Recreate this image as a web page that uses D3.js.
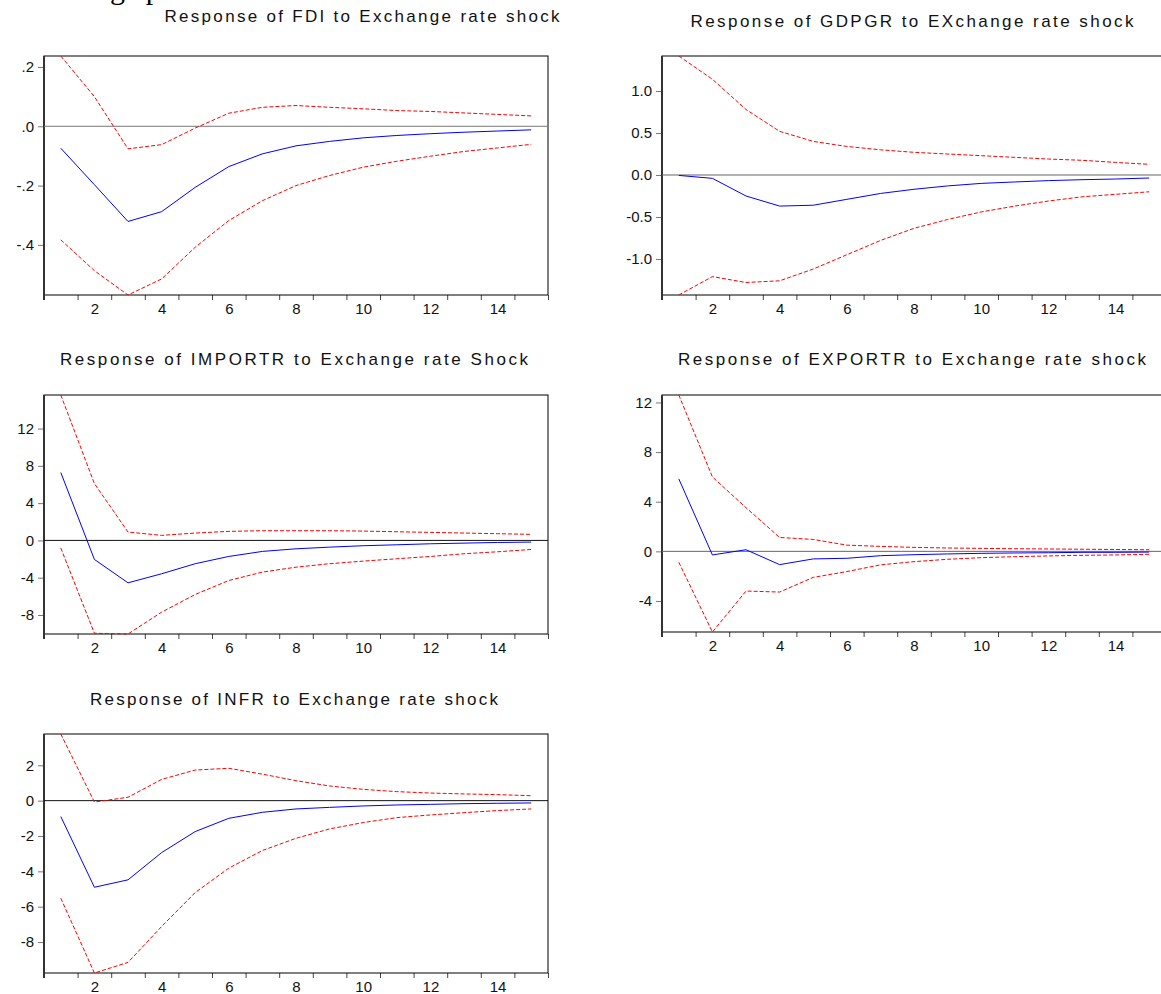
<!DOCTYPE html>
<html>
<head>
<meta charset="utf-8">
<script src="https://cdn.jsdelivr.net/npm/d3@7"></script>
<style>
  body { margin: 0; background: #fff; }
  svg { display: block; }
</style>
</head>
<body>
<div id="canvas"></div>
<script>
// Canvas
const width = 1161;
const height = 994;

// Periods after the shock
const periods = d3.range(1, 16);
const xLabels = [2, 4, 6, 8, 10, 12, 14];

// Response of FDI
const fdiResp  = [-0.074, -0.197, -0.321, -0.288, -0.206, -0.136, -0.093, -0.066, -0.051, -0.039, -0.031, -0.025, -0.020, -0.016, -0.012];
const fdiUpper = [0.237, 0.100, -0.076, -0.062, -0.006, 0.044, 0.064, 0.070, 0.064, 0.059, 0.053, 0.050, 0.045, 0.040, 0.035];
const fdiLower = [-0.383, -0.487, -0.569, -0.515, -0.408, -0.318, -0.251, -0.200, -0.166, -0.138, -0.118, -0.101, -0.085, -0.073, -0.061];
const fdiTicks = [0.2, 0, -0.2, -0.4];
const fdiTickLabels = ['.2', '.0', '-.2', '-.4'];

// Response of GDPGR
const gdpResp  = [-0.005, -0.04, -0.25, -0.37, -0.36, -0.29, -0.22, -0.17, -0.13, -0.10, -0.083, -0.067, -0.056, -0.048, -0.036];
const gdpUpper = [1.417, 1.14, 0.78, 0.52, 0.40, 0.34, 0.30, 0.27, 0.25, 0.23, 0.21, 0.19, 0.175, 0.15, 0.127];
const gdpLower = [-1.429, -1.21, -1.28, -1.26, -1.12, -0.95, -0.78, -0.635, -0.53, -0.44, -0.37, -0.31, -0.26, -0.23, -0.20];
const gdpTicks = [1, 0.5, 0, -0.5, -1];
const gdpTickLabels = ['1.0', '0.5', '0.0', '-0.5', '-1.0'];

// Response of IMPORTR
const impResp  = [7.28, -2.04, -4.55, -3.58, -2.5, -1.72, -1.18, -0.9, -0.72, -0.57, -0.47, -0.36, -0.29, -0.22, -0.18];
const impUpper = [15.6, 6.1, 0.9, 0.54, 0.79, 0.97, 1.04, 1.04, 1.04, 1.0, 0.93, 0.86, 0.79, 0.72, 0.65];
const impLower = [-0.82, -9.96, -10.04, -7.7, -5.8, -4.3, -3.4, -2.87, -2.5, -2.22, -1.97, -1.72, -1.43, -1.22, -0.97];
const impTicks = [12, 8, 4, 0, -4, -8];
const impTickLabels = ['12', '8', '4', '0', '-4', '-8'];

// Response of EXPORTR
const expResp  = [5.84, -0.29, 0.13, -1.07, -0.61, -0.56, -0.35, -0.27, -0.21, -0.16, -0.13, -0.11, -0.08, -0.08, -0.06];
const expUpper = [12.6, 6.0, 3.52, 1.12, 0.96, 0.5, 0.4, 0.32, 0.27, 0.24, 0.21, 0.19, 0.17, 0.15, 0.13];
const expLower = [-0.88, -6.5, -3.2, -3.28, -2.1, -1.63, -1.09, -0.83, -0.64, -0.51, -0.43, -0.37, -0.32, -0.29, -0.24];
const expTicks = [12, 8, 4, 0, -4];
const expTickLabels = ['12', '8', '4', '0', '-4'];

// Response of INFR
const infResp  = [-0.9, -4.9, -4.48, -2.94, -1.75, -1.0, -0.66, -0.47, -0.38, -0.30, -0.245, -0.21, -0.17, -0.15, -0.13];
const infUpper = [3.77, -0.08, 0.19, 1.2, 1.73, 1.83, 1.5, 1.13, 0.83, 0.64, 0.51, 0.43, 0.38, 0.34, 0.28];
const infLower = [-5.52, -9.75, -9.15, -7.12, -5.2, -3.82, -2.82, -2.13, -1.6, -1.24, -0.96, -0.81, -0.68, -0.56, -0.47];
const infTicks = [2, 0, -2, -4, -6, -8];
const infTickLabels = ['2', '0', '-2', '-4', '-6', '-8'];

const colors = {
  resp: '#0000ff',
  band: '#ff0000'
};

// panel boxes, roughly where the reference puts them
const panels = [
  { title: 'Response of FDI to Exchange rate shock', resp: fdiResp, upper: fdiUpper, lower: fdiLower,
    ticks: fdiTicks, tickLabels: fdiTickLabels, zero: '#777',
    left: 44, right: 548, top: 56, bottom: 295, titleX: 362, titleY: 22, titleW: 395 },
  { title: 'Response of GDPGR to EXchange rate shock', resp: gdpResp, upper: gdpUpper, lower: gdpLower,
    ticks: gdpTicks, tickLabels: gdpTickLabels, zero: '#666',
    left: 662, right: 1166, top: 56, bottom: 295, titleX: 912, titleY: 27, titleW: 443 },
  { title: 'Response of IMPORTR to Exchange rate Shock', resp: impResp, upper: impUpper, lower: impLower,
    ticks: impTicks, tickLabels: impTickLabels, zero: '#111',
    left: 44, right: 548, top: 395, bottom: 634, titleX: 294, titleY: 365, titleW: 468 },
  { title: 'Response of EXPORTR to Exchange rate shock', resp: expResp, upper: expUpper, lower: expLower,
    ticks: expTicks, tickLabels: expTickLabels, zero: '#666',
    left: 662, right: 1166, top: 395, bottom: 632, titleX: 912, titleY: 365, titleW: 468 },
  { title: 'Response of INFR to Exchange rate shock', resp: infResp, upper: infUpper, lower: infLower,
    ticks: infTicks, tickLabels: infTickLabels, zero: '#111',
    left: 44, right: 548, top: 734, bottom: 973, titleX: 294, titleY: 705, titleW: 408 }
];

let svg = d3.select('#canvas').append('svg')
  .attr('width', width)
  .attr('height', height);

// caption line of the document, cut off by the top edge (only descenders show)
svg.append('text')
  .attr('x', 20)
  .attr('y', -1)
  .style('font-family', '"Liberation Serif", "Times New Roman", serif')
  .style('font-size', '30px')
  .attr('fill', '#000')
  .text('Exchange pass');

panels.forEach(drawPanel);

function drawPanel(p) {
  let g = svg.append('g');

  let x = d3.scaleLinear().domain([0.5, 15.5]).range([p.left, p.right]);
  let yMin = d3.min(p.lower.concat(p.resp));
  let yMax = d3.max(p.upper.concat(p.resp));
  let y = d3.scaleLinear().domain([yMin, yMax]).range([p.bottom, p.top]);

  // title
  g.append('text')
    .attr('x', p.titleX)
    .attr('y', p.titleY)
    .attr('text-anchor', 'middle')
    .attr('textLength', p.titleW)
    .attr('lengthAdjust', 'spacing')
    .style('font-family', '"Liberation Sans", Arial, sans-serif')
    .style('font-size', '17px')
    .attr('fill', '#111')
    .text(p.title);

  // x ticks on the period boundaries
  let xTickAxis = d3.axisBottom(x)
    .tickValues(d3.range(0.5, 16, 1))
    .tickFormat('')
    .tickSize(5);
  let xa = g.append('g')
    .attr('transform', `translate(0,${p.bottom})`)
    .call(xTickAxis);
  xa.select('.domain').remove();
  xa.selectAll('line').attr('stroke', '#444');

  // x labels in the middle of the even periods
  let xLabelAxis = d3.axisBottom(x)
    .tickValues(xLabels)
    .tickFormat(d3.format('d'))
    .tickSize(0)
    .tickPadding(8);
  let xl = g.append('g')
    .attr('transform', `translate(0,${p.bottom})`)
    .call(xLabelAxis);
  xl.select('.domain').remove();
  xl.selectAll('text')
    .style('font-family', '"Liberation Sans", Arial, sans-serif')
    .style('font-size', '15px')
    .attr('fill', '#111');

  // y axis
  let yAxis = d3.axisLeft(y)
    .tickValues(p.ticks)
    .tickFormat((d, i) => p.tickLabels[i])
    .tickSize(6)
    .tickPadding(4);
  let ya = g.append('g')
    .attr('transform', `translate(${p.left},0)`)
    .call(yAxis);
  ya.select('.domain').remove();
  ya.selectAll('line').attr('stroke', '#777');
  ya.selectAll('text')
    .style('font-family', '"Liberation Sans", Arial, sans-serif')
    .style('font-size', '15px')
    .attr('fill', '#111');

  // frame
  g.append('rect')
    .attr('x', p.left)
    .attr('y', p.top)
    .attr('width', p.right - p.left)
    .attr('height', p.bottom - p.top)
    .attr('fill', 'none')
    .attr('stroke', '#000')
    .attr('stroke-width', 1);
  g.append('line')
    .attr('x1', p.left).attr('x2', p.left)
    .attr('y1', p.top).attr('y2', p.bottom + 5)
    .attr('stroke', '#333')
    .attr('stroke-width', 2);

  // zero line
  g.append('line')
    .attr('x1', p.left).attr('x2', p.right)
    .attr('y1', y(0)).attr('y2', y(0))
    .attr('stroke', p.zero)
    .attr('stroke-width', 1);

  let line = d3.line()
    .x((d, i) => x(periods[i]))
    .y(d => y(d));

  g.append('path')
    .datum(p.upper)
    .attr('d', line)
    .attr('fill', 'none')
    .attr('stroke', colors.band)
    .attr('stroke-width', 1)
    .attr('stroke-dasharray', '4,2');

  g.append('path')
    .datum(p.lower)
    .attr('d', line)
    .attr('fill', 'none')
    .attr('stroke', colors.band)
    .attr('stroke-width', 1)
    .attr('stroke-dasharray', '4,2');

  g.append('path')
    .datum(p.resp)
    .attr('d', line)
    .attr('fill', 'none')
    .attr('stroke', colors.resp)
    .attr('stroke-width', 1);
}
</script>
</body>
</html>
